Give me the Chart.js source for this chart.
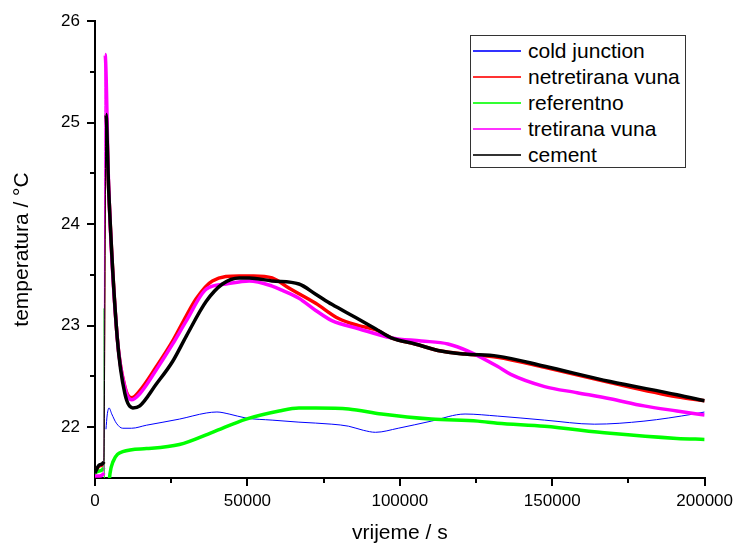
<!DOCTYPE html>
<html lang="hr">
<head>
    <meta charset="UTF-8">
    <title>temperatura / vrijeme</title>
    <script src="https://cdn.jsdelivr.net/npm/chart.js"></script>
    <style>
        body { margin: 0; background: #fff; }
        .wrap { position: relative; width: 738px; height: 544px; }
        .legend {
            position: absolute;
            left: 470px;
            top: 35px;
            width: 214px;
            height: 131px;
            border: 1px solid #333;
            background: #fff;
            font-family: "Liberation Sans", Arial, sans-serif;
            font-size: 21px;
            color: #000;
        }
        .legend-row {
            display: flex;
            align-items: center;
            height: 26px;
        }
        .legend-row:first-child { margin-top: 2px; }
        .legend-line {
            display: block;
            width: 48px;
            height: 2px;
            margin-left: 2px;
            margin-right: 7px;
            opacity: 0.8;
        }
    </style>
</head>
<body>
<div class="wrap">
    <canvas id="chart" width="738" height="544"></canvas>
    <div id="legend" class="legend"></div>
</div>
<script>
// vrijeme (s) i temperatura (°C), očitano s grafa
const coldTime = [3600, 4000, 4600, 5500, 7000, 9100, 12000, 16900, 27700, 36500, 40000, 44000, 49600, 58100, 66900, 77700, 83200, 88000, 92000, 99500, 110300, 121400, 132000, 147500, 163800, 180100, 196400, 200000];
const coldTemp = [21.98, 22.12, 22.19, 22.13, 22.04, 21.99, 21.99, 22.02, 22.08, 22.14, 22.15, 22.13, 22.09, 22.07, 22.05, 22.03, 22.01, 21.97, 21.95, 21.99, 22.06, 22.13, 22.11, 22.07, 22.03, 22.06, 22.13, 22.15];

const netretTime = [0, 1500, 2900, 3600, 4500, 7300, 9800, 12000, 14700, 20000, 25500, 30000, 33300, 38500, 47300, 52000, 58100, 63600, 72400, 79900, 86500, 92000, 97200, 105000, 113500, 121400, 132000, 147500, 169000, 190900, 200000];
const netretTemp = [21.55, 21.62, 21.65, 25.08, 24.33, 22.88, 22.40, 22.29, 22.36, 22.59, 22.85, 23.10, 23.27, 23.44, 23.49, 23.49, 23.47, 23.37, 23.22, 23.07, 23.00, 22.96, 22.88, 22.82, 22.75, 22.72, 22.69, 22.59, 22.44, 22.30, 22.26];

const refTime = [0, 1500, 2900, 3000, 3100, 4200, 4900, 5900, 9100, 16900, 27700, 38500, 49600, 60400, 66900, 72400, 83200, 94000, 110300, 125600, 132000, 147500, 169000, 190900, 200000];
const refTemp = [21.55, 21.57, 21.60, 23.17, 21.30, 21.30, 21.54, 21.66, 21.76, 21.79, 21.83, 21.95, 22.08, 22.16, 22.19, 22.19, 22.18, 22.13, 22.08, 22.06, 22.04, 22.01, 21.94, 21.89, 21.88];

const tretTime = [0, 1500, 2900, 3300, 4500, 7300, 9800, 12000, 14700, 20000, 25500, 30000, 36500, 43000, 50600, 58100, 61300, 66900, 72400, 77700, 86500, 97200, 107000, 115800, 122400, 132000, 136400, 147500, 158200, 169000, 180100, 190900, 200000];
const tretTemp = [21.52, 21.52, 21.55, 25.67, 24.35, 22.88, 22.39, 22.27, 22.33, 22.56, 22.82, 23.05, 23.36, 23.41, 23.44, 23.39, 23.35, 23.27, 23.15, 23.05, 22.97, 22.88, 22.85, 22.82, 22.75, 22.60, 22.52, 22.40, 22.34, 22.28, 22.21, 22.16, 22.12];

const cementTime = [0, 1500, 2900, 3600, 4500, 7300, 9800, 12400, 14700, 20000, 25500, 30000, 36500, 41800, 47300, 50600, 58100, 66900, 72400, 77700, 85500, 92000, 97200, 105000, 113500, 121400, 132000, 147500, 169000, 190900, 200000];
const cementTemp = [21.55, 21.63, 21.66, 25.08, 24.33, 22.88, 22.33, 22.19, 22.21, 22.42, 22.65, 22.90, 23.24, 23.41, 23.47, 23.47, 23.44, 23.41, 23.31, 23.21, 23.08, 22.97, 22.88, 22.82, 22.75, 22.72, 22.70, 22.60, 22.45, 22.32, 22.26];

const xTicks = [0, 50000, 100000, 150000, 200000];
const xMinor = [25000, 75000, 125000, 175000];
const yTicks = [22, 23, 24, 25, 26];
const yMinor = [22.5, 23.5, 24.5, 25.5];

function points(t, v) {
    return t.map((x, i) => ({ x: x, y: v[i] }));
}

// strmi skokovi su tanka linija kao na originalu
function spikeWidth(normal) {
    return ctx => {
        const dx = Math.abs(ctx.p1.parsed.x - ctx.p0.parsed.x);
        const dy = Math.abs(ctx.p1.parsed.y - ctx.p0.parsed.y);
        return dy / dx > 0.003 ? 1 : normal;
    };
}

function series(label, t, v, color, width, order) {
    return {
        label: label,
        data: points(t, v),
        borderColor: color,
        borderWidth: width,
        pointRadius: 0,
        cubicInterpolationMode: 'monotone',
        order: order,
        segment: { borderWidth: spikeWidth(width) }
    };
}

const minorTicks = {
    id: 'minorTicks',
    afterDraw(chart) {
        const ctx = chart.ctx;
        const xs = chart.scales.x, ys = chart.scales.y;
        const area = chart.chartArea;
        ctx.save();
        ctx.strokeStyle = '#000';
        ctx.lineWidth = 2;
        ctx.beginPath();
        xMinor.forEach(v => {
            const p = Math.round(xs.getPixelForValue(v));
            ctx.moveTo(p, area.bottom);
            ctx.lineTo(p, area.bottom + 5);
        });
        yMinor.forEach(v => {
            const p = Math.round(ys.getPixelForValue(v));
            ctx.moveTo(area.left, p);
            ctx.lineTo(area.left - 5, p);
        });
        ctx.stroke();
        ctx.restore();
    }
};

const font = '"Liberation Sans", Arial, sans-serif';

const chart = new Chart(document.getElementById('chart'), {
    type: 'line',
    data: {
        datasets: [
            series('cold junction', coldTime, coldTemp, '#0000ff', 1, 5),
            series('netretirana vuna', netretTime, netretTemp, '#ff0000', 3.5, 4),
            series('referentno', refTime, refTemp, '#00ff00', 3.5, 3),
            series('tretirana vuna', tretTime, tretTemp, '#ff00ff', 3.5, 2),
            series('cement', cementTime, cementTemp, '#000000', 3.5, 1)
        ]
    },
    options: {
        responsive: false,
        animation: false,
        devicePixelRatio: 1,
        layout: { padding: { top: 21, right: 30, left: 0, bottom: 0 } },
        plugins: {
            legend: { display: false },
            tooltip: { enabled: false }
        },
        scales: {
            x: {
                type: 'linear',
                min: 0,
                max: 200000,
                afterFit: s => { s.height = 66; },
                afterBuildTicks: s => { s.ticks = xTicks.map(v => ({ value: v })); },
                grid: { drawOnChartArea: false, drawTicks: true, tickLength: 8, color: '#000', lineWidth: 2 },
                border: { display: true, color: '#000', width: 2 },
                ticks: {
                    color: '#000',
                    padding: 5,
                    maxRotation: 0,
                    font: { family: font, size: 17 },
                    callback: v => String(v)
                },
                title: {
                    display: true,
                    text: 'vrijeme / s',
                    color: '#000',
                    font: { family: font, size: 21, lineHeight: 1 },
                    padding: { top: 0, bottom: 0 }
                }
            },
            y: {
                min: 21.5,
                max: 26,
                afterFit: s => { s.width = 95; },
                afterBuildTicks: s => { s.ticks = yTicks.map(v => ({ value: v })); },
                grid: { drawOnChartArea: false, drawTicks: true, tickLength: 8, color: '#000', lineWidth: 2 },
                border: { display: true, color: '#000', width: 2 },
                ticks: {
                    color: '#000',
                    padding: 7,
                    font: { family: font, size: 17 },
                    callback: v => String(v)
                },
                title: {
                    display: true,
                    text: 'temperatura / °C',
                    color: '#000',
                    font: { family: font, size: 21, lineHeight: 1 },
                    padding: { top: 12, bottom: 0 }
                }
            }
        }
    },
    plugins: [minorTicks]
});

// legenda kao HTML, iz skupova podataka grafa
const legendEl = document.getElementById('legend');
chart.data.datasets.forEach(ds => {
    const row = document.createElement('div');
    row.className = 'legend-row';
    const line = document.createElement('span');
    line.className = 'legend-line';
    line.style.backgroundColor = ds.borderColor;
    const text = document.createElement('span');
    text.textContent = ds.label;
    row.appendChild(line);
    row.appendChild(text);
    legendEl.appendChild(row);
});
</script>
</body>
</html>
